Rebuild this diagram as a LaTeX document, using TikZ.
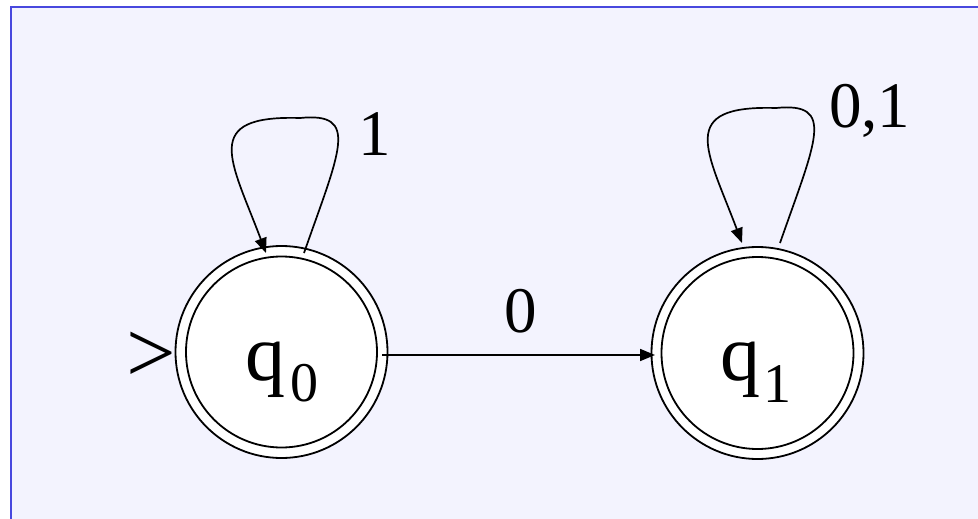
\documentclass[tikz,border=0pt]{standalone}
\usepackage{fontspec}
\setmainfont{Liberation Serif}
\usetikzlibrary{arrows.meta,calc}
\definecolor{bordercol}{RGB}{72,72,222}
\definecolor{lav}{RGB}{243,243,254}
\newcommand\myloop[2]{%
  \draw[arr] ($(#1.center)+(22.5,-99+#2)$)
    .. controls ($(#1.center)+(58.5,-202+#2)$) and ($(#1.center)+(78.5,-240+#2)$) ..
    ($(#1.center)+(18.5,-234+#2)$)
    .. controls ($(#1.center)+(-81.5,-237+#2)$) and ($(#1.center)+(-50.5,-192+#2)$) ..
    ($(#1.center)+(-15.5,-99+#2)$);}
\begin{document}
\begin{tikzpicture}[x=1pt,y=-1pt,
  state/.style={circle,draw,fill=white,line width=1.8pt,minimum size=212pt,inner sep=0pt},
  innerring/.style={line width=1.8pt},
  arr/.style={line width=1.7pt,-{Triangle[length=15pt,width=12pt]}},
  lbl/.style={inner sep=0pt,anchor=base,font=\fontsize{65}{70}\selectfont},
  qtext/.style={inner sep=0pt,anchor=base west,font=\fontsize{80}{86}\selectfont}]
\useasboundingbox (0,0) rectangle (978,519);
\fill[white] (0,0) rectangle (978,519);
\fill[lav] (11,7) rectangle (978,519);
\draw[bordercol,line width=2.2pt] (11,519) -- (11,7) -- (978,7);
\node[state] (q0) at (281.5,352) {};
\node[state] (q1) at (757.5,353) {};
\draw[innerring] (q0.center) circle[radius=95.5pt];
\draw[innerring] (q1.center) circle[radius=96pt];
\node[qtext] (t0) at (245,380) {q\kern5pt\raisebox{-21pt}{\fontsize{56}{60}\selectfont 0}};
\node[qtext] (t1) at (720,380) {q\kern3pt\raisebox{-22pt}{\fontsize{56}{60}\selectfont 1}};
\node[inner sep=0pt,font=\fontsize{88}{92}\selectfont] (start) at (151.5,357.5) {>};
\draw[arr] ($(q0.center)+(100.5,3)$) -- ($(q1.center)+(-102.5,2)$);
\node[lbl] (l0) at (520.5,332) {0};
\myloop{q0}{0}
\myloop{q1}{-11}
\node[lbl] (l1) at (374.5,155) {1};
\node[lbl,anchor=base west] (l01) at (829,128) {0,1};
\end{tikzpicture}
\end{document}
